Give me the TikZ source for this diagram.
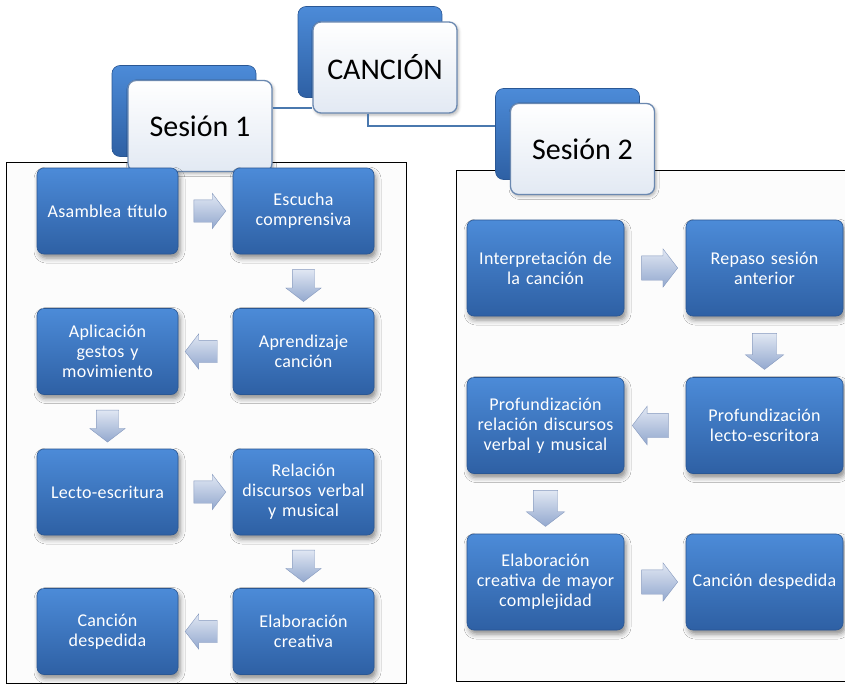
\documentclass[tikz,border=0pt]{standalone}
\usepackage{fontspec}
\setmainfont{Carlito}
\newfontfamily\boxfont[LetterSpace=1.5]{Carlito}
\usetikzlibrary{shapes.arrows,shadows.blur,calc}

\definecolor{boxtop}{HTML}{4C8BD8}
\definecolor{boxbot}{HTML}{2E60A4}
\definecolor{boxline}{HTML}{2A5794}
\definecolor{linkblue}{HTML}{4A78AE}
\definecolor{arrlight}{HTML}{E0E7F3}
\definecolor{arrdark}{HTML}{93A8CE}
\definecolor{arrline}{HTML}{8599BE}
\definecolor{hdrline}{HTML}{6A88B0}
\definecolor{hdrbot}{HTML}{E2E9F3}
\definecolor{framefill}{HTML}{FCFCFC}

\tikzset{
  stepbox/.style={draw=boxline, line width=0.6pt, rounded corners=7pt,
    top color=boxtop, bottom color=boxbot, text=white,
    font=\boxfont\fontsize{18}{20}\selectfont, align=center, inner sep=0pt,
    blur shadow={shadow xshift=2pt, shadow yshift=-4pt,
      shadow blur radius=5pt, shadow opacity=45}},
  leftbox/.style={stepbox, minimum width=141pt, minimum height=86pt, text width=135pt},
  rightbox/.style={stepbox, minimum width=157pt, minimum height=96pt, text width=151pt},
  flow/.style={single arrow, single arrow head extend=6.5pt,
    single arrow tip angle=105, minimum height=32pt, minimum width=35pt,
    inner xsep=0pt, inner ysep=11pt, draw=arrline, line width=0.4pt,
    top color=arrlight, bottom color=arrdark},
  bigflow/.style={flow, single arrow head extend=7pt, minimum height=36pt,
    minimum width=38pt, inner ysep=12pt},
  hdrback/.style={draw=boxline, line width=0.6pt, rounded corners=8pt,
    top color=boxtop, bottom color=boxbot,
    minimum width=144pt, minimum height=91pt, inner sep=0pt},
  hdrfront/.style={draw=hdrline, line width=1.3pt, rounded corners=8pt,
    top color=white, bottom color=hdrbot, text=black,
    font=\fontsize{30}{36}\selectfont,
    minimum width=144pt, minimum height=91pt, inner sep=0pt,
    blur shadow={shadow xshift=1.5pt, shadow yshift=-2pt,
      shadow blur radius=3pt, shadow opacity=30}},
  link/.style={draw=linkblue, line width=2pt},
  framebox/.style={draw=black, line width=0.8pt, fill=framefill}
}

\begin{document}
\begin{tikzpicture}[x=1pt, y=-1pt]
\useasboundingbox (0,0) rectangle (845,685);

% session frames
\path[framebox] (6,162) rectangle (406,683.5);
\path[framebox] (456,170) rectangle (850,681);

% header boxes
\node[hdrback] (canb) at (370,52) {};
\node[hdrfront] (canf) at (385,67.5) {CANCIÓN};
\node[hdrback] (s1b) at (184,111) {};
\node[hdrfront] (s1f) at (200,126) {Sesión 1};
\node[hdrback] (s2b) at (567.5,134) {};
\node[hdrfront] (s2f) at (582.5,149) {Sesión 2};

% header links
\coordinate (j1) at ([yshift=18pt]s1f.east);
\draw[link] (j1) -- (j1 -| canf.west);
\coordinate (j2) at ([xshift=-17pt]canf.south);
\coordinate (j3) at ([yshift=23pt]s2f.west);
\draw[link] (j2) |- (j3 -| s2b.west);

% session 1 steps
\node[leftbox] (a1) at (107.5,211) {Asamblea título};
\node[leftbox] (a2) at (303.5,211) {Escucha\\comprensiva};
\node[leftbox] (a3) at (303.5,351.5) {Aprendizaje\\canción};
\node[leftbox] (a4) at (107.5,351.5) {Aplicación\\gestos y\\movimiento};
\node[leftbox] (a5) at (107.5,492) {Lecto-escritura};
\node[leftbox] (a6) at (303.5,492) {Relación\\discursos verbal\\y musical};
\node[leftbox] (a7) at (303.5,631.5) {Elaboración\\creativa};
\node[leftbox] (a8) at (107.5,631.5) {Canción\\despedida};

\node[flow] (f12) at ($(a1.east)!0.5!(a2.west)$) {};
\node[flow, rotate=-90] (f23) at ($(a2.south)!0.5!(a3.north)$) {};
\node[flow, rotate=180] (f34) at ($(a3.west)!0.5!(a4.east)$) {};
\node[flow, rotate=-90] (f45) at ($(a4.south)!0.5!(a5.north)$) {};
\node[flow] (f56) at ($(a5.east)!0.5!(a6.west)$) {};
\node[flow, rotate=-90] (f67) at ($(a6.south)!0.5!(a7.north)$) {};
\node[flow, rotate=180] (f78) at ($(a7.west)!0.5!(a8.east)$) {};

% session 2 steps
\node[rightbox] (b1) at (545.5,268) {Interpretación de\\la canción};
\node[rightbox] (b2) at (764.5,268) {Repaso sesión\\anterior};
\node[rightbox] (b3) at (764.5,425.5) {Profundización\\lecto-escritora};
\node[rightbox] (b4) at (545.5,425.5) {Profundización\\relación discursos\\verbal y musical};
\node[rightbox] (b5) at (545.5,582) {Elaboración\\creativa de mayor\\complejidad};
\node[rightbox] (b6) at (764.5,582) {Canción despedida};

\node[bigflow] (g12) at ($(b1.east)!0.5!(b2.west)$) {};
\node[bigflow, rotate=-90] (g23) at ($(b2.south)!0.5!(b3.north)$) {};
\node[bigflow, rotate=180] (g34) at ($(b3.west)!0.5!(b4.east)$) {};
\node[bigflow, rotate=-90] (g45) at ($(b4.south)!0.5!(b5.north)$) {};
\node[bigflow] (g56) at ($(b5.east)!0.5!(b6.west)$) {};
\end{tikzpicture}
\end{document}
